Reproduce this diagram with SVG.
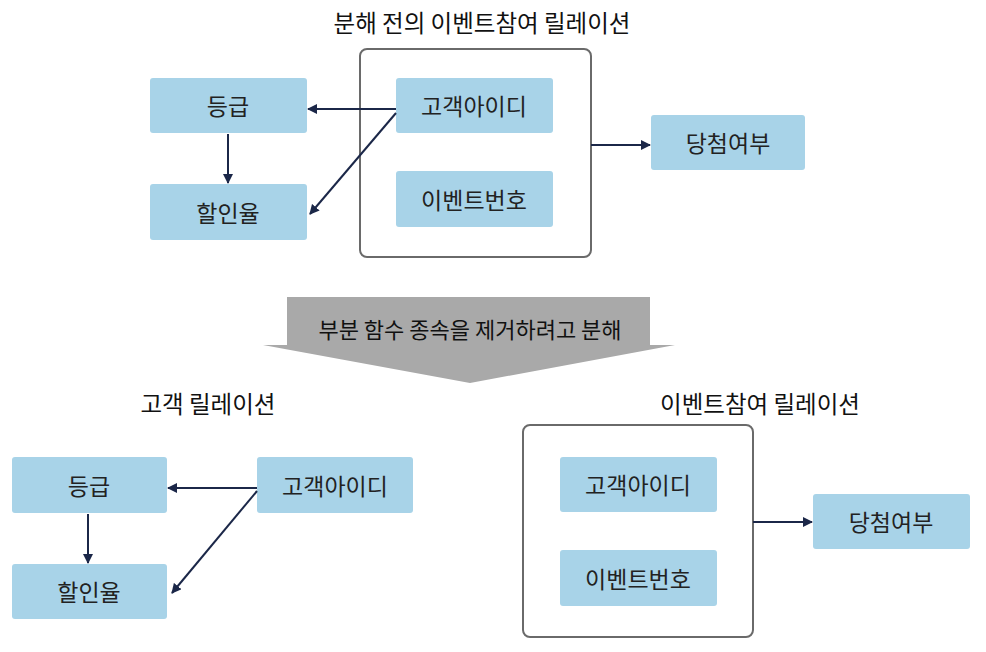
<svg xmlns="http://www.w3.org/2000/svg" width="986" height="652" viewBox="0 0 986 652">
<defs>
<style>
.box{fill:#a8d3e8;}
.lbl{font-family:"Noto Sans CJK KR","Noto Sans",sans-serif;font-size:23px;fill:#222;text-anchor:middle;dominant-baseline:central;}
.title{font-family:"Noto Sans CJK KR","Noto Sans",sans-serif;font-size:23.5px;fill:#111;text-anchor:middle;dominant-baseline:central;}
.atext{font-family:"Noto Sans CJK KR","Noto Sans",sans-serif;font-size:22px;fill:#111;text-anchor:middle;dominant-baseline:central;}
.cont{fill:none;stroke:#6a6a6a;stroke-width:2;}
.conn{stroke:#1b2748;stroke-width:2;fill:none;marker-end:url(#ah);}
</style>
<marker id="ah" viewBox="0 0 10 10" refX="9" refY="5" markerWidth="5" markerHeight="5" orient="auto">
<path d="M0,0 L10,5 L0,10 z" fill="#1b2748"/>
</marker>
</defs>
<rect width="986" height="652" fill="#ffffff"/>

<text class="title" x="482" y="22">분해 전의 이벤트참여 릴레이션</text>
<text class="title" x="208" y="403">고객 릴레이션</text>
<text class="title" x="760" y="403">이벤트참여 릴레이션</text>

<g id="top-container"><rect class="cont" x="360" y="49" width="231" height="208" rx="7"/></g>
<g id="top-grade"><rect class="box" x="150" y="78" width="157" height="55" rx="3"/><text class="lbl" x="228" y="105">등급</text></g>
<g id="top-discount"><rect class="box" x="150" y="184" width="157" height="56" rx="3"/><text class="lbl" x="228" y="212">할인율</text></g>
<g id="top-custid"><rect class="box" x="396" y="78" width="157" height="55" rx="3"/><text class="lbl" x="474" y="105">고객아이디</text></g>
<g id="top-eventno"><rect class="box" x="396" y="171" width="157" height="56" rx="3"/><text class="lbl" x="474" y="199">이벤트번호</text></g>
<g id="top-win"><rect class="box" x="651" y="115" width="154" height="55" rx="3"/><text class="lbl" x="728" y="142">당첨여부</text></g>

<g id="decompose-arrow">
<path d="M287,297 L650,297 L650,345 L675,345 L470,383 L263,345 L287,345 Z" fill="#a9a9a9"/>
<text class="atext" x="470" y="328">부분 함수 종속을 제거하려고 분해</text>
</g>

<g id="bl-grade"><rect class="box" x="12" y="457" width="155" height="56" rx="3"/><text class="lbl" x="89" y="485">등급</text></g>
<g id="bl-discount"><rect class="box" x="12" y="564" width="155" height="55" rx="3"/><text class="lbl" x="89" y="591">할인율</text></g>
<g id="bl-custid"><rect class="box" x="257" y="457" width="156" height="56" rx="3"/><text class="lbl" x="335" y="485">고객아이디</text></g>

<g id="br-container"><rect class="cont" x="523" y="425" width="230" height="212" rx="7"/></g>
<g id="br-custid"><rect class="box" x="560" y="457" width="157" height="55" rx="3"/><text class="lbl" x="638" y="484">고객아이디</text></g>
<g id="br-eventno"><rect class="box" x="560" y="550" width="157" height="56" rx="3"/><text class="lbl" x="638" y="578">이벤트번호</text></g>
<g id="br-win"><rect class="box" x="813" y="494" width="157" height="55" rx="3"/><text class="lbl" x="891" y="521">당첨여부</text></g>

<g id="connectors">
<line class="conn" x1="396" y1="109" x2="308" y2="109"/>
<line class="conn" x1="396" y1="113" x2="310" y2="214"/>
<line class="conn" x1="228" y1="134" x2="228" y2="183"/>
<line class="conn" x1="591" y1="145" x2="650" y2="145"/>
<line class="conn" x1="257" y1="488" x2="168" y2="488"/>
<line class="conn" x1="257" y1="491" x2="172" y2="593"/>
<line class="conn" x1="88" y1="514" x2="88" y2="563"/>
<line class="conn" x1="753" y1="522" x2="812" y2="522"/>
</g>
</svg>
